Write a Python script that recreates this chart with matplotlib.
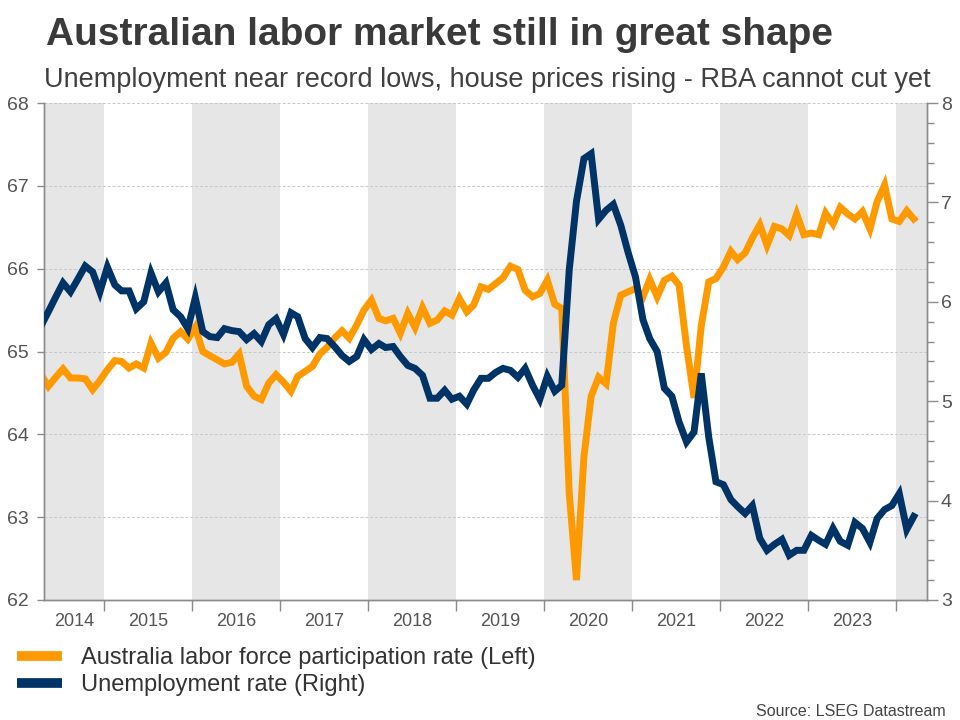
from __future__ import annotations

import matplotlib
import pandas as pd

matplotlib.use("Agg")
import matplotlib.pyplot as plt
from matplotlib.ticker import FixedLocator, MultipleLocator


# monthly values, Apr 2014 - Mar 2024
START_MONTH = "2014-04-01"

PARTICIPATION = [
    64.72, 64.58, 64.69, 64.79, 64.68, 64.68, 64.67, 64.54, 64.65, 64.78,
    64.89, 64.88, 64.80, 64.85, 64.80, 65.10, 64.92, 64.99, 65.16, 65.24,
    65.15, 65.29, 65.00, 64.95, 64.90, 64.85, 64.87, 64.97, 64.58, 64.46,
    64.42, 64.62, 64.72, 64.63, 64.52, 64.70, 64.76, 64.82, 64.97, 65.05,
    65.16, 65.25, 65.16, 65.32, 65.50, 65.62, 65.40, 65.37, 65.40, 65.22,
    65.46, 65.29, 65.53, 65.34, 65.38, 65.49, 65.44, 65.64, 65.48, 65.56,
    65.78, 65.75, 65.82, 65.89, 66.03, 65.99, 65.74, 65.66, 65.70, 65.86,
    65.57, 65.52, 63.29, 62.24, 63.73, 64.46, 64.69, 64.61, 65.34, 65.68,
    65.72, 65.76, 65.66, 65.87, 65.66, 65.86, 65.91, 65.80, 65.06, 64.44,
    65.31, 65.84, 65.88, 66.02, 66.21, 66.11, 66.19, 66.37, 66.53, 66.28,
    66.51, 66.48, 66.40, 66.66, 66.41, 66.43, 66.41, 66.67, 66.54, 66.74,
    66.66, 66.60, 66.69, 66.48, 66.81, 67.01, 66.60, 66.57, 66.70, 66.60,
]

UNEMPLOYMENT = [
    5.76, 5.90, 6.05, 6.19, 6.10, 6.23, 6.36, 6.30, 6.10, 6.35,
    6.17, 6.11, 6.11, 5.93, 6.00, 6.29, 6.10, 6.19, 5.92, 5.85,
    5.73, 6.04, 5.70, 5.65, 5.64, 5.73, 5.71, 5.70, 5.62, 5.68,
    5.60, 5.77, 5.83, 5.67, 5.89, 5.85, 5.63, 5.54, 5.64, 5.63,
    5.55, 5.46, 5.40, 5.45, 5.62, 5.52, 5.58, 5.54, 5.55, 5.45,
    5.36, 5.33, 5.26, 5.03, 5.03, 5.11, 5.02, 5.05, 4.97, 5.11,
    5.23, 5.23, 5.29, 5.33, 5.31, 5.24, 5.33, 5.16, 5.02, 5.25,
    5.10, 5.16, 6.32, 7.01, 7.44, 7.49, 6.83, 6.92, 6.98, 6.77,
    6.50, 6.25, 5.82, 5.63, 5.50, 5.13, 5.05, 4.79, 4.59, 4.69,
    5.28, 4.64, 4.19, 4.16, 4.01, 3.94, 3.87, 3.95, 3.62, 3.50,
    3.56, 3.61, 3.45, 3.50, 3.50, 3.65, 3.60, 3.56, 3.72, 3.59,
    3.55, 3.78, 3.72, 3.58, 3.82, 3.91, 3.95, 4.07, 3.71, 3.84,
]

YEAR_LABELS = [2014, 2015, 2016, 2017, 2018, 2019, 2020, 2021, 2022, 2023]
SHADED_YEARS = [2014, 2016, 2018, 2020, 2022, 2024]

LEFT_TICKS = [62, 63, 64, 65, 66, 67, 68]
RIGHT_TICKS = [3, 4, 5, 6, 7, 8]

TITLE = "Australian labor market still in great shape"
SUBTITLE = "Unemployment near record lows, house prices rising - RBA cannot cut yet"
LABEL_PARTICIPATION = "Australia labor force participation rate (Left)"
LABEL_UNEMPLOYMENT = "Unemployment rate (Right)"
SOURCE = "Source: LSEG Datastream"

ORANGE = "#ff9900"
NAVY = "#003366"
SHADE = "#e6e6e6"
AXIS_GREY = "#8c8c8c"
TEXT_GREY = "#555555"

plt.rcParams["font.family"] = ["Liberation Sans", "DejaVu Sans"]


def main() -> None:
    dates = pd.date_range(START_MONTH, periods=len(PARTICIPATION), freq="MS") + pd.Timedelta(days=14)
    x_start = pd.Timestamp("2014-04-27")
    x_end = pd.Timestamp("2024-05-09")

    fig = plt.figure(figsize=(9.6, 7.2), dpi=100)
    ax = fig.add_axes([44 / 960, 1 - 600 / 720, (927 - 44) / 960, (600 - 103) / 720])
    ax2 = ax.twinx()

    # alternating year shading
    for year in SHADED_YEARS:
        left = max(pd.Timestamp(f"{year}-01-01"), x_start)
        right = min(pd.Timestamp(f"{year + 1}-01-01"), x_end)
        ax.axvspan(left, right, color=SHADE, lw=0, zorder=0)

    ax.plot(dates, PARTICIPATION, color=ORANGE, lw=5, solid_joinstyle="miter", zorder=3)
    ax2.plot(dates, UNEMPLOYMENT, color=NAVY, lw=5, solid_joinstyle="miter", zorder=3)

    ax.set_xlim(x_start, x_end)
    ax.set_ylim(62, 68)
    ax2.set_ylim(3, 8)

    ax.set_yticks(LEFT_TICKS)
    ax.yaxis.grid(True, color="#c8c8c8", lw=0.7, linestyle=(0, (3, 2)), zorder=1)
    ax.set_axisbelow(True)
    ax2.set_yticks(RIGHT_TICKS)
    ax2.yaxis.set_minor_locator(MultipleLocator(0.2))

    # year boundaries as major ticks, labels centred on the visible part of each year
    boundaries = [pd.Timestamp(f"{y + 1}-01-01") for y in YEAR_LABELS]
    centres = []
    for y in YEAR_LABELS:
        left = max(pd.Timestamp(f"{y}-01-01"), x_start)
        right = min(pd.Timestamp(f"{y + 1}-01-01"), x_end)
        centres.append(left + (right - left) / 2)
    ax.xaxis.set_major_locator(FixedLocator(matplotlib.dates.date2num(boundaries)))
    ax.xaxis.set_minor_locator(FixedLocator(matplotlib.dates.date2num(centres)))
    ax.xaxis.set_major_formatter(plt.NullFormatter())
    ax.xaxis.set_minor_formatter(plt.FixedFormatter([str(y) for y in YEAR_LABELS]))
    ax.tick_params(axis="x", which="major", length=8, color=AXIS_GREY, width=1)
    ax.tick_params(axis="x", which="minor", length=0, pad=9, labelsize=13, labelcolor=TEXT_GREY)

    ax.tick_params(axis="y", length=5, color=AXIS_GREY, width=1, pad=6, labelsize=14, labelcolor=TEXT_GREY)
    ax2.tick_params(axis="y", which="major", length=8, color=AXIS_GREY, width=1, pad=2,
                    labelsize=14, labelcolor=TEXT_GREY)
    ax2.tick_params(axis="y", which="minor", length=5, color=AXIS_GREY, width=1)

    for axis in (ax, ax2):
        axis.spines["top"].set_visible(False)
        for side in ("left", "right", "bottom"):
            axis.spines[side].set_color(AXIS_GREY)
            axis.spines[side].set_linewidth(1)

    fig.text(46 / 960, 1 - 45 / 720, TITLE, fontsize=28, fontweight="bold", color="#3a3a3a",
             ha="left", va="baseline")
    fig.text(44 / 960, 1 - 87 / 720, SUBTITLE, fontsize=19.5, color="#404040", ha="left", va="baseline")

    handles = [
        plt.Line2D([], [], color=ORANGE, lw=7, solid_capstyle="butt"),
        plt.Line2D([], [], color=NAVY, lw=7, solid_capstyle="butt"),
    ]
    fig.legend(
        handles,
        [LABEL_PARTICIPATION, LABEL_UNEMPLOYMENT],
        loc="upper left",
        bbox_to_anchor=(-4 / 960, 1 - 626 / 720),
        frameon=False,
        fontsize=17,
        handlelength=1.9,
        handletextpad=0.8,
        labelspacing=0.2,
        labelcolor="#333333",
    )

    fig.text(946 / 960, 1 - 716 / 720, SOURCE, fontsize=11.5, color="#444444", ha="right", va="baseline")

    fig.savefig("out.png", dpi=100)
    plt.close(fig)


if __name__ == "__main__":
    main()
